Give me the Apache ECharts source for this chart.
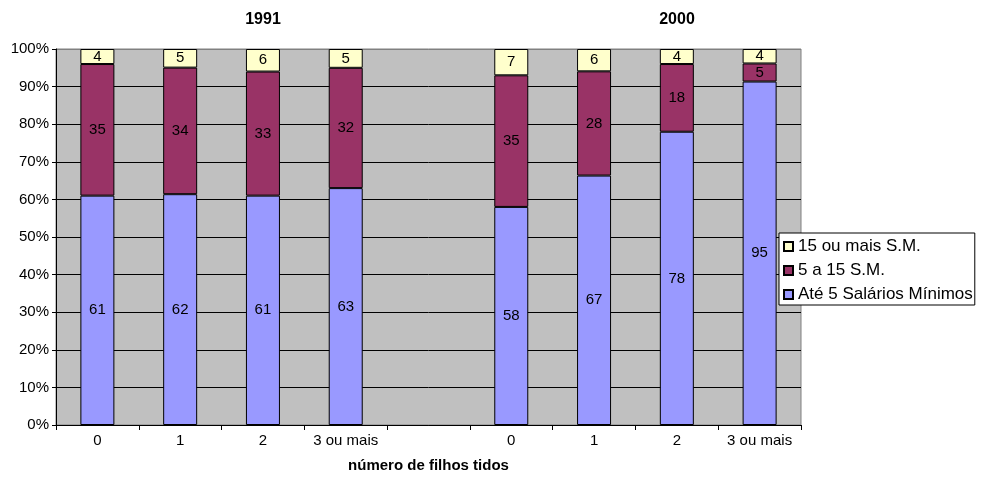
<!DOCTYPE html>
<html>
<head>
<meta charset="utf-8">
<script src="https://cdn.jsdelivr.net/npm/echarts@6/dist/echarts.min.js"></script>
<style>
  html, body { margin: 0; padding: 0; background: #fff; overflow: hidden; }
  #chart { width: 982px; height: 477px; }
</style>
</head>
<body>
<div id="chart"></div>
<script>
// Categories: two groups (1991, 2000) separated by an empty slot
const categories = ['0', '1', '2', '3 ou mais', '', '0', '1', '2', '3 ou mais'];
const groupTitles = ['1991', '2000'];
const seriesNames = ['Até 5 Salários Mínimos', '5 a 15 S.M.', '15 ou mais S.M.'];

// Raw values per income band (null = empty slot)
const ate5 = [61, 62, 61, 63, null, 58, 67, 78, 95];
const de5a15 = [35, 34, 33, 32, null, 35, 28, 18, 5];
const mais15 = [4, 5, 6, 5, null, 7, 6, 4, 4];

const yTicks = [0, 10, 20, 30, 40, 50, 60, 70, 80, 90, 100];

const rawSeries = [ate5, de5a15, mais15];
const colors = ['#9999FF', '#993366', '#FFFFCC'];

// 100% stacking: each column scaled to its own total
const totals = categories.map((c, i) =>
  rawSeries.reduce((s, arr) => s + (arr[i] == null ? 0 : arr[i]), 0));
const pctSeries = rawSeries.map(arr =>
  arr.map((v, i) => v == null ? null : v / totals[i] * 100));

const font = 'Liberation Sans, Arial, sans-serif';

const chart = echarts.init(document.getElementById('chart'), null, { width: 982, height: 477 });

const series = rawSeries.map((arr, si) => ({
  name: seriesNames[si],
  type: 'bar',
  stack: 'total',
  barWidth: 34,
  data: pctSeries[si],
  itemStyle: { color: colors[si], borderColor: '#000', borderWidth: 1 },
  label: {
    show: true,
    position: 'inside',
    color: '#000',
    fontFamily: font,
    fontSize: 15,
    formatter: p => (arr[p.dataIndex] == null ? '' : String(arr[p.dataIndex]))
  },
  emphasis: { disabled: true }
}));

const splitColors = yTicks.map((t, i) => i === yTicks.length - 1 ? '#808080' : '#000');

chart.setOption({
  animation: false,
  textStyle: { fontFamily: font },
  title: [
    { text: groupTitles[0], left: 263, top: 12, padding: 0, textAlign: 'center',
      textStyle: { fontFamily: font, fontSize: 16, fontWeight: 'bold', color: '#000' } },
    { text: groupTitles[1], left: 677, top: 12, padding: 0, textAlign: 'center',
      textStyle: { fontFamily: font, fontSize: 16, fontWeight: 'bold', color: '#000' } }
  ],
  grid: {
    left: 56, right: 181, top: 49, bottom: 52,
    outerBoundsMode: 'none',
    show: true, backgroundColor: '#C0C0C0', borderColor: '#808080', borderWidth: 1,
    containLabel: false
  },
  legend: {
    orient: 'vertical',
    left: 779, top: 233,
    data: [seriesNames[2], seriesNames[1], seriesNames[0]],
    icon: 'rect',
    itemWidth: 9, itemHeight: 9,
    itemGap: 7,
    padding: [5, 2, 2, 4],
    backgroundColor: '#fff',
    borderColor: '#000',
    borderWidth: 1,
    borderRadius: 0,
    selectedMode: false,
    textStyle: { fontFamily: font, fontSize: 17, color: '#000' }
  },
  xAxis: {
    type: 'category',
    data: categories,
    name: 'número de filhos tidos',
    nameLocation: 'middle',
    nameGap: 33,
    nameTextStyle: { fontFamily: font, fontSize: 15, fontWeight: 'bold', color: '#000' },
    axisLine: { lineStyle: { color: '#000', width: 1 } },
    axisTick: { show: true, interval: 0, length: 5, lineStyle: { color: '#000' } },
    axisLabel: { interval: 0, color: '#000', fontFamily: font, fontSize: 15, margin: 8 },
    splitLine: { show: false }
  },
  yAxis: {
    type: 'value',
    min: 0, max: 100, interval: 10,
    axisLine: { show: true, lineStyle: { color: '#000', width: 1 } },
    axisTick: { show: true, length: 4, lineStyle: { color: '#000' } },
    axisLabel: { formatter: '{value}%', color: '#000', fontFamily: font, fontSize: 15, margin: 7 },
    splitLine: { show: true, lineStyle: { color: splitColors, width: 1 } }
  },
  series: series
});
</script>
</body>
</html>
